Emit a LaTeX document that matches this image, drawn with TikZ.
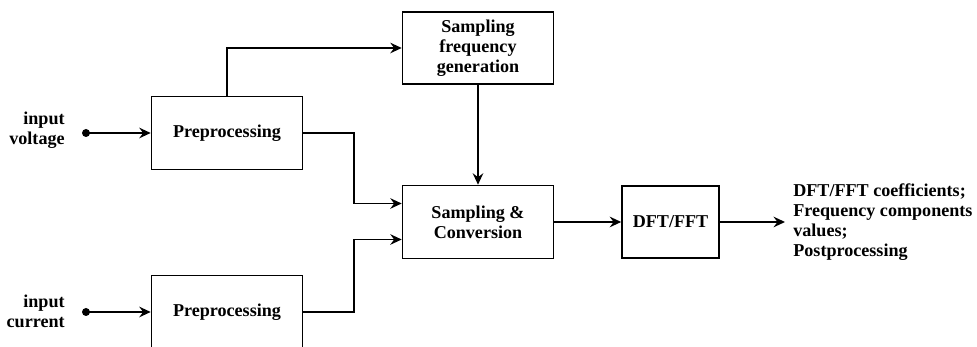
\documentclass[tikz,border=0pt]{standalone}
\usepackage{fontspec}
\setmainfont{Liberation Serif}
\usetikzlibrary{arrows.meta,positioning}

\tikzset{
  block/.style={draw, line width=0.9pt, minimum width=3.02cm, minimum height=1.46cm,
    align=center, inner sep=2pt, font=\bfseries\fontsize{10.3}{11.3}\selectfont},
  lbl/.style={align=right, inner sep=0pt, font=\bfseries\fontsize{10.3}{11.3}\selectfont},
  arr/.style={line width=0.9pt, -{Stealth[length=6.5pt,width=6pt,inset=2.2pt]}}
}

\begin{document}
\begin{tikzpicture}
 \clip (0,0) rectangle (19.54,6.94);

 % blocks
 \node[block] (pre1) at (4.54,4.28) {Preprocessing};
 \node[block] (pre2) at (4.54,0.70) {Preprocessing};
 \node[block, minimum height=1.44cm] (sfg) at (9.56,5.98) {Sampling\\frequency\\generation};
 \node[block] (sc) at (9.56,2.50) {Sampling \&\\Conversion};
 \node[block, minimum width=1.94cm, minimum height=1.44cm] (dft) at (13.41,2.50) {DFT/FFT};

 % inputs
 \coordinate (inv) at (1.72,4.28);
 \coordinate (inc) at (1.72,0.70);
 \fill (inv) circle (0.08);
 \fill (inc) circle (0.08);
 \node[lbl, anchor=east] (lv) at (1.30,4.33) {input\\voltage};
 \node[lbl, anchor=east] (lc) at (1.30,0.72) {input\\current};

 \draw[arr, line width=1.2pt] (inv) -- (pre1.west);
 \draw[arr, line width=1.2pt] (inc) -- (pre2.west);

 % connections
 \draw[arr] (pre1.north) |- (sfg.west);
 \draw[arr] (sfg.south) -- (sc.north);
 \draw[arr] (pre1.east) -- ++(1.01,0) |- ([yshift=0.37cm]sc.west);
 \draw[arr] (pre2.east) -- ++(1.01,0) |- ([yshift=-0.35cm]sc.west);
 \draw[arr, line width=1.1pt] (sc.east) -- (dft.west);

 % output
 \coordinate (out) at (15.70,2.50);
 \draw[arr, line width=1.1pt] (dft.east) -- (out);
 \node[lbl, align=left, anchor=west] (res) at (15.86,2.50)
   {DFT/FFT coefficients;\\Frequency components\\values;\\Postprocessing};
\end{tikzpicture}
\end{document}
